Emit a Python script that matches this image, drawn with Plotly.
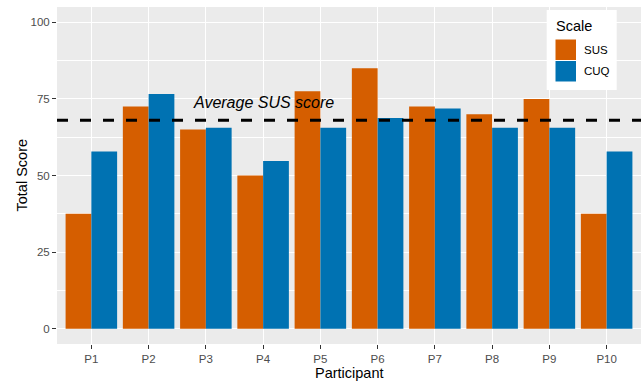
import plotly.graph_objects as go

participants = ["P1", "P2", "P3", "P4", "P5", "P6", "P7", "P8", "P9", "P10"]
sus_scores = [37.5, 72.5, 65.0, 50.0, 77.5, 85.0, 72.5, 70.0, 75.0, 37.5]
cuq_scores = [57.8, 76.6, 65.6, 54.7, 65.6, 68.8, 71.9, 65.6, 65.6, 57.8]
avg_sus = 68
y_ticks = [0, 25, 50, 75, 100]

W, H = 643, 381
ML, MR, MT, MB = 57, 2, 7, 37
PW, PH = W - ML - MR, H - MT - MB

def px(x):
    return (x - ML) / PW

def py(y):
    return 1 - (y - MT) / PH

SUS_COL = "#D55E00"
CUQ_COL = "#0072B2"

fig = go.Figure()
fig.add_trace(go.Bar(x=participants, y=sus_scores, name="SUS",
                     marker=dict(color=SUS_COL, line=dict(width=0)), showlegend=False))
fig.add_trace(go.Bar(x=participants, y=cuq_scores, name="CUQ",
                     marker=dict(color=CUQ_COL, line=dict(width=0)), showlegend=False))

fig.add_hline(y=avg_sus, line=dict(color="black", width=3, dash="11px,12px"), layer="above")

fig.add_annotation(x="P4", y=73.8, xref="x", yref="y", text="<i>Average SUS score</i>",
                   showarrow=False, font=dict(family="Liberation Sans", size=16, color="black"))

# axis titles
fig.add_annotation(xref="paper", yref="paper", x=px(349), y=py(373), xanchor="center", yanchor="middle",
                   text="Participant", showarrow=False,
                   font=dict(family="Liberation Sans", size=14.5, color="black"))
fig.add_annotation(xref="paper", yref="paper", x=px(21), y=py(175.5), xanchor="center", yanchor="middle",
                   text="Total Score", showarrow=False, textangle=-90,
                   font=dict(family="Liberation Sans", size=14.5, color="black"))

# legend (drawn)
fig.add_shape(type="rect", xref="paper", yref="paper", x0=px(546.7), x1=px(616.7),
              y0=py(90), y1=py(10), fillcolor="white", line=dict(width=0), layer="above")
fig.add_shape(type="rect", xref="paper", yref="paper", x0=px(555.5), x1=px(576),
              y0=py(60), y1=py(39.5), fillcolor=SUS_COL, line=dict(width=0), layer="above")
fig.add_shape(type="rect", xref="paper", yref="paper", x0=px(555.5), x1=px(576),
              y0=py(81.5), y1=py(61), fillcolor=CUQ_COL, line=dict(width=0), layer="above")
fig.add_annotation(xref="paper", yref="paper", x=px(554), y=py(26.5), xanchor="left", yanchor="middle",
                   text="Scale", showarrow=False,
                   font=dict(family="Liberation Sans", size=14.5, color="black"))
fig.add_annotation(xref="paper", yref="paper", x=px(581.5), y=py(50), xanchor="left", yanchor="middle",
                   text="SUS", showarrow=False,
                   font=dict(family="Liberation Sans", size=11.5, color="black"))
fig.add_annotation(xref="paper", yref="paper", x=px(581.5), y=py(71), xanchor="left", yanchor="middle",
                   text="CUQ", showarrow=False,
                   font=dict(family="Liberation Sans", size=11.5, color="black"))

fig.update_layout(
    width=W, height=H,
    margin=dict(l=ML, r=MR, t=MT, b=MB, autoexpand=False),
    paper_bgcolor="white",
    plot_bgcolor="#EBEBEB",
    barmode="group", bargap=0.1, bargroupgap=0,
    font=dict(family="Liberation Sans", size=11.5, color="#4D4D4D"),
    xaxis=dict(
        range=[-0.6, 9.6], showgrid=True, gridcolor="white", gridwidth=1.1,
        ticks="outside", ticklen=4, tickcolor="#333333", tickwidth=1.1,
        tickfont=dict(size=11.5, color="#4D4D4D"), automargin=False,
        zeroline=False, showline=False,
    ),
    yaxis=dict(
        range=[-5, 105], tickvals=y_ticks, showgrid=True, gridcolor="white", gridwidth=1.1,
        ticks="outside", ticklen=4, tickcolor="#333333", tickwidth=1.1,
        tickfont=dict(size=11.5, color="#4D4D4D"), automargin=False,
        zeroline=False, showline=False,
        minor=dict(tickvals=[12.5, 37.5, 62.5, 87.5], showgrid=True, gridcolor="white", gridwidth=0.55),
    ),
)

fig.write_html(
    "out.html",
    config={"displayModeBar": False},
    post_script="document.body.style.margin='0';document.body.style.overflow='hidden';",
)
